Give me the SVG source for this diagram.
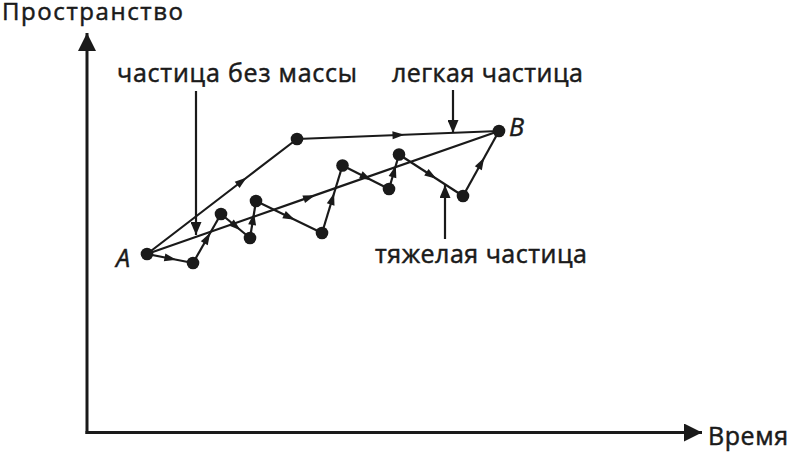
<svg xmlns="http://www.w3.org/2000/svg" width="790" height="452" viewBox="0 0 790 452">
<style>
.t{font-family:"Open Sans","Noto Sans","Liberation Sans",sans-serif;fill:#1a1a1a;stroke:#1a1a1a;stroke-width:0.5;}
.ln{stroke:#1a1a1a;stroke-width:2.2;fill:none;}
.ax{stroke:#1a1a1a;stroke-width:3;fill:none;}
.seg{stroke:#1a1a1a;stroke-width:2.2;fill:none;marker-mid:url(#mid);}
.dot{fill:#1a1a1a;}
</style>
<defs>
<marker id="mid" markerUnits="userSpaceOnUse" viewBox="-6 -4.5 13 9" refX="0" refY="0" markerWidth="13" markerHeight="9" orient="auto">
<path d="M-5.5,-4 L6.5,0 L-5.5,4 z" fill="#1a1a1a"/>
</marker>
<marker id="ptr" markerUnits="userSpaceOnUse" viewBox="0 -5.5 13 11" refX="13" refY="0" markerWidth="13" markerHeight="11" orient="auto">
<path d="M0,-5.5 L13,0 L0,5.5 z" fill="#1a1a1a"/>
</marker>
<marker id="axh" markerUnits="userSpaceOnUse" viewBox="0 -9 18 18" refX="18" refY="0" markerWidth="18" markerHeight="18" orient="auto">
<path d="M0,-9 L18,0 L0,9 z" fill="#1a1a1a"/>
</marker>
</defs>
<g id="axes">
<path class="ax" d="M87,434 V33" marker-end="url(#axh)"/>
<path class="ax" d="M85.5,432.5 H702" marker-end="url(#axh)"/>
<text class="t" x="2" y="20" font-size="24" textLength="181">Пространство</text>
<text class="t" x="708" y="445" font-size="25" textLength="80">Время</text>
</g>
<g id="connectors">
<path class="seg" d="M147,254 L241.5,181.5 L297,139"/>
<path class="seg" d="M297,139 L398,135 L499,131"/>
<path class="seg" d="M147,254 L308.9,197.4 L499,131"/>
<path class="seg" d="M147,254 L170,258.5 L193,263"/>
<path class="seg" d="M193,263 L207,238.5 L221,214"/>
<path class="seg" d="M221,214 L235.5,226 L250,238"/>
<path class="seg" d="M250,238 L253,219.5 L256,201"/>
<path class="seg" d="M256,201 L289,217 L322,233"/>
<path class="seg" d="M322,233 L332.25,199.25 L342.5,165.5"/>
<path class="seg" d="M342.5,165.5 L365.75,177.25 L389,189"/>
<path class="seg" d="M389,189 L394,171.75 L399,154.5"/>
<path class="seg" d="M399,154.5 L431,175.25 L463,196"/>
<path class="seg" d="M463,196 L481,163.5 L499,131"/>
<path class="ln" d="M196,91 V235" marker-end="url(#ptr)"/>
<path class="ln" d="M453,90 V133" marker-end="url(#ptr)"/>
<path class="ln" d="M445,239 V185" marker-end="url(#ptr)"/>
</g>
<g id="nodeA">
<circle class="dot" cx="147" cy="254" r="6.3"/>
<text class="t" x="116" y="267" font-size="25" font-style="italic">A</text>
</g>
<g id="nodeB">
<circle class="dot" cx="499" cy="131" r="6.3"/>
<text class="t" x="509" y="136" font-size="25" font-style="italic">B</text>
</g>
<g id="nodeT"><circle class="dot" cx="297" cy="139" r="6.3"/></g>
<g id="heavy-points">
<circle class="dot" cx="193" cy="263" r="6.3"/>
<circle class="dot" cx="221" cy="214" r="6.3"/>
<circle class="dot" cx="250" cy="238" r="6.3"/>
<circle class="dot" cx="256" cy="201" r="6.3"/>
<circle class="dot" cx="322" cy="233" r="6.3"/>
<circle class="dot" cx="342.5" cy="165.5" r="6.3"/>
<circle class="dot" cx="389" cy="189" r="6.3"/>
<circle class="dot" cx="399" cy="154.5" r="6.3"/>
<circle class="dot" cx="463" cy="196" r="6.3"/>
</g>
<g id="label-massless"><text class="t" x="117" y="82" font-size="25" textLength="240">частица без массы</text></g>
<g id="label-light"><text class="t" x="392" y="82" font-size="25" textLength="191">легкая частица</text></g>
<g id="label-heavy"><text class="t" x="375" y="263" font-size="25" textLength="212">тяжелая частица</text></g>
</svg>
